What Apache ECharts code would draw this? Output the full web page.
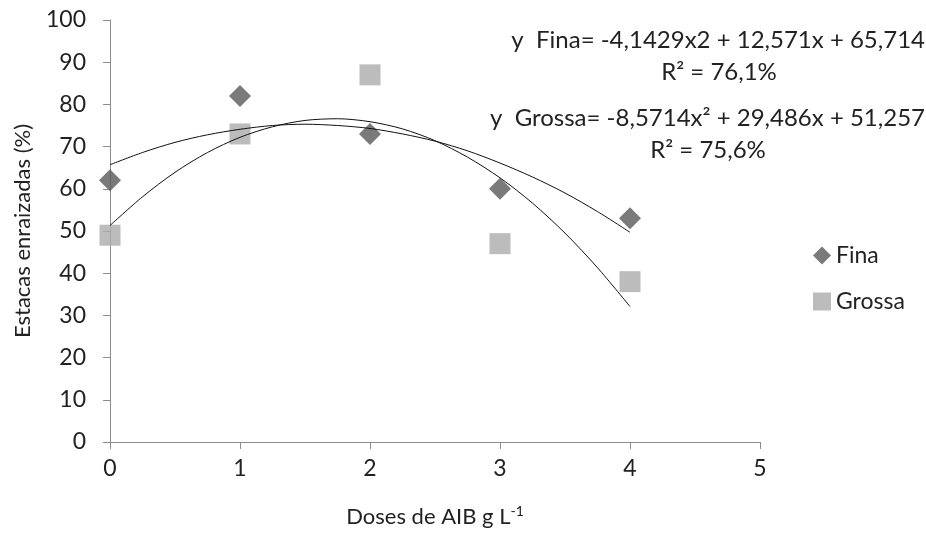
<!DOCTYPE html>
<html>
<head>
<meta charset="utf-8">
<script src="https://cdn.jsdelivr.net/npm/echarts@6/dist/echarts.min.js"></script>
<style>
  html, body { margin: 0; padding: 0; background: #fff; }
  #chart { width: 926px; height: 533px; }
</style>
</head>
<body>
<div id="chart"></div>
<script>
// 观测值
const doses = [0, 1, 2, 3, 4];
const fina = [62, 82, 73, 60, 53];
const grossa = [49, 73, 87, 47, 38];

// 趋势线（从图上读取的点）
const curveX = [0, 0.25, 0.5, 0.75, 1, 1.25, 1.5, 1.75, 2, 2.25, 2.5, 2.75, 3, 3.25, 3.5, 3.75, 4];
const finaCurve = [65.7, 68.6, 71.0, 72.8, 74.1, 75.0, 75.3, 75.0, 74.3, 73.0, 71.3, 69.0, 66.1, 62.8, 59.0, 54.6, 49.7];
const grossaCurve = [51.3, 58.1, 63.9, 68.6, 72.2, 74.7, 76.2, 76.6, 75.9, 74.2, 71.4, 67.5, 62.6, 56.6, 49.5, 41.3, 32.1];

const FONT = 'Lato, "Open Sans", sans-serif';
const TXT = '#222';

const chart = echarts.init(document.getElementById('chart'));

const option = {
  backgroundColor: '#fff',
  animation: false,
  textStyle: { fontFamily: FONT },
  grid: { left: 110, right: 166, top: 20, bottom: 91 },
  legend: {
    orient: 'vertical',
    left: 808,
    top: 239,
    itemGap: 23,
    itemWidth: 18,
    itemHeight: 18,
    textStyle: { fontSize: 23, color: TXT, fontFamily: FONT },
    data: [
      { name: 'Fina', icon: 'diamond' },
      { name: 'Grossa', icon: 'rect' }
    ]
  },
  xAxis: {
    type: 'value',
    min: 0,
    max: 5,
    interval: 1,
    name: '{t|Doses de AIB g L}{s|-1}',
    nameLocation: 'middle',
    nameGap: 62,
    nameTextStyle: {
      rich: {
        t: { fontSize: 22, color: TXT, fontFamily: FONT },
        s: { fontSize: 14, color: TXT, fontFamily: FONT, verticalAlign: 'top', padding: [0, 0, 12, 0] }
      }
    },
    axisLine: { lineStyle: { color: '#8c8c8c', width: 1 } },
    axisTick: { show: true, inside: false, length: 7, lineStyle: { color: '#8c8c8c' } },
    axisLabel: { fontSize: 23, color: TXT, margin: 15 },
    splitLine: { show: false }
  },
  yAxis: {
    type: 'value',
    min: 0,
    max: 100,
    interval: 10,
    name: 'Estacas enraizadas (%)',
    nameLocation: 'middle',
    nameGap: 76,
    nameRotate: 90,
    nameTextStyle: { fontSize: 22, color: TXT },
    axisLine: { show: true, lineStyle: { color: '#8c8c8c', width: 1 } },
    axisTick: { show: true, inside: false, length: 7, lineStyle: { color: '#8c8c8c' } },
    axisLabel: { fontSize: 23, color: TXT, margin: 24 },
    splitLine: { show: false }
  },
  series: [
    {
      name: 'Fina',
      type: 'scatter',
      symbol: 'diamond',
      symbolSize: 22,
      itemStyle: { color: '#595959' },
      z: 5,
      data: doses.map((d, i) => [d, fina[i]])
    },
    {
      name: 'Grossa',
      type: 'scatter',
      symbol: 'rect',
      symbolSize: 21,
      itemStyle: { color: '#ababab' },
      z: 4,
      data: doses.map((d, i) => [d, grossa[i]])
    },
    {
      name: 'Fina trend',
      type: 'line',
      smooth: 0.3,
      showSymbol: false,
      silent: true,
      lineStyle: { color: '#111', width: 1 },
      z: 6,
      data: curveX.map((x, i) => [x, finaCurve[i]])
    },
    {
      name: 'Grossa trend',
      type: 'line',
      smooth: 0.3,
      showSymbol: false,
      silent: true,
      lineStyle: { color: '#111', width: 1 },
      z: 6,
      data: curveX.map((x, i) => [x, grossaCurve[i]])
    }
  ],
  graphic: [
    {
      type: 'text', x: 925, y: 40,
      style: { text: 'y  Fina= -4,1429x2 + 12,571x + 65,714', font: '24px ' + FONT, fill: TXT, align: 'right', verticalAlign: 'middle' }
    },
    {
      type: 'text', x: 719, y: 72,
      style: { text: 'R² = 76,1%', font: '24px ' + FONT, fill: TXT, align: 'center', verticalAlign: 'middle' }
    },
    {
      type: 'text', x: 925, y: 118,
      style: { text: 'y  Grossa= -8,5714x² + 29,486x + 51,257', font: '24px ' + FONT, fill: TXT, align: 'right', verticalAlign: 'middle' }
    },
    {
      type: 'text', x: 708, y: 150,
      style: { text: 'R² = 75,6%', font: '24px ' + FONT, fill: TXT, align: 'center', verticalAlign: 'middle' }
    }
  ]
};

chart.setOption(option);
</script>
</body>
</html>
